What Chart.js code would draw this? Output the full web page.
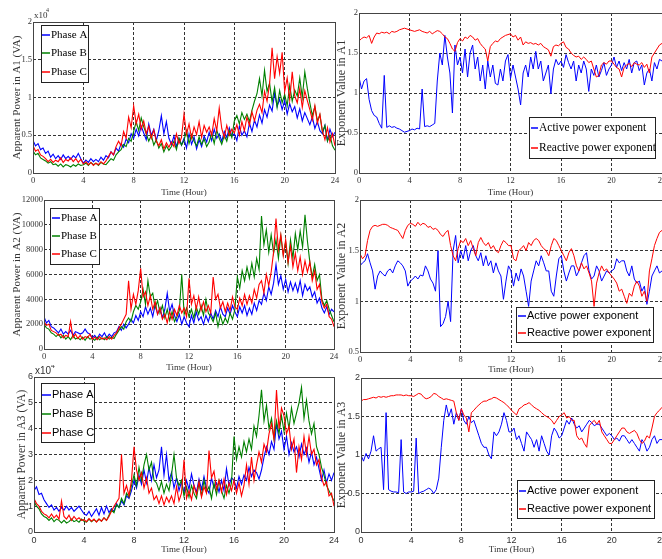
<!DOCTYPE html>
<html>
<head>
<meta charset="utf-8">
<title>Apparent power and exponent values, A1-A3</title>
<script src="https://cdn.jsdelivr.net/npm/chart.js@4.4.1/dist/chart.umd.min.js"></script>
<style>
  html, body { margin: 0; padding: 0; background: #fff; overflow: hidden; width: 662px; height: 559px; }
  body { position: relative; }
  canvas { position: absolute; }
</style>
</head>
<body>
<script>
// sampling grid: one value every 12 minutes, 0..24 h
const hours = Array.from({length: 121}, (_, i) => Math.round(i * 2) / 10)

// A1 apparent power (VA)
const a1PhaseA = [
  4300,3600,3900,3100,3300, 2600,2900,2100,2500,1900, 2300,1800,2400,1900,2200, 1800,2300,2000,2600,1900,
  1300,1700,1400,1900,1500, 1800,1500,2100,1700,2300, 2000,2800,2400,3300,2900, 3900,3400,4500,4000,5200,
  4600,5800,4900,6200,5300, 4400,6500,5000,5800,4300, 5600,7600,5200,6800,4600, 3800,4900,3500,4600,3700,
  4600,3300,5200,3800,4800, 3200,4400,3500,4900,4100, 5400,4300,5800,4600,5200, 4200,5500,4700,6000,4900,
  5200,4300,6200,5000,5600, 4800,6600,5500,7000,6100, 7700,6600,8400,7400,9000, 8200,10600,8800,9800,8400,
  9600,7800,9200,8100,8800, 7300,8500,6900,8000,7200, 6400,7400,5900,6800,5600, 5200,6300,4300,5800,4800,
  5400]
const a1PhaseB = [
  2900,2400,2600,2000,1800, 1600,1300,1500,1100,1200, 900,1200,800,1100,1000, 800,1100,900,1200,1000,
  1100,1300,1000,1400,1100, 1300,1000,1400,1200,1100, 1500,1900,1700,2400,2800, 3100,3800,3500,4600,4200,
  5500,6800,5600,7300,6100, 5200,4200,5000,3700,4400, 3300,3900,2800,3600,3000, 3500,4200,3100,4600,3700,
  4300,5600,3900,5100,4200, 3600,4800,3800,4500,3500, 4100,5300,3900,5700,4600, 3800,5000,4200,5600,4700,
  6900,7600,6500,8000,7100, 7800,6800,8300,9500,10500, 12500,10200,13600,10800,11900, 9400,11300,8700,10900,9300,
  10400,8900,11600,9500,11000, 10200,12600,10000,13400,11200, 9300,7600,8800,6900,7700, 5400,6300,4200,5000,3600,
  3000]
const a1PhaseC = [
  3600,2900,3100,2400,2200, 1900,1500,1800,1400,1700, 1500,2000,1400,1800,1600, 2000,1500,1900,1400,1800,
  1200,1500,1100,1400,1000, 1300,1100,1500,1200,1600, 2200,2800,2400,3500,4200, 3600,5500,4600,7400,6000,
  8900,6500,7800,5800,6900, 5200,6200,4600,5700,4200, 3600,4400,3200,4000,3400, 4100,3500,5200,3900,4700,
  7800,5100,6500,4600,6100, 5100,6800,4700,6300,5400, 6100,5000,7200,5600,8600, 5900,4700,6300,5000,5800,
  5300,6400,5000,6800,5600, 7400,6300,8100,6900,8300, 9100,8000,10800,9500,11800, 16600,12500,15400,13200,16000,
  10800,12600,9700,13400,10200, 9300,11200,8700,10900,9600, 8400,7000,8900,6600,7800, 5600,4400,6000,4100,5200,
  3600]

// A1 exponents
const a1Active = [
  1.20,1.05,1.15,1.18,0.92, 0.78,0.72,0.70,0.62,0.56, 1.22,0.57,0.59,0.57,0.58, 0.56,0.55,0.53,0.51,0.52,
  0.53,0.55,0.54,0.56,0.55, 1.05,0.58,0.59,0.58,0.60, 0.62,1.15,1.50,1.35,1.72, 1.45,1.25,0.75,1.60,1.35,
  1.45,1.25,1.55,1.20,1.50, 1.60,1.30,1.45,1.15,1.35, 1.05,1.40,1.20,1.35,1.12, 1.10,1.30,1.15,1.40,1.48,
  1.18,1.35,1.20,1.05,0.85, 1.25,1.35,1.20,1.45,1.30, 1.52,1.30,1.40,1.15,1.25, 1.35,0.99,1.30,1.42,1.35,
  1.40,1.32,1.48,1.38,1.30, 1.40,1.15,1.35,1.25,1.40, 1.30,1.02,1.30,1.22,1.35, 1.20,1.28,1.38,1.22,1.30,
  1.35,1.45,1.32,1.40,1.28, 1.38,1.30,1.42,1.25,1.38, 1.40,1.28,1.35,1.10,1.25, 1.30,1.15,1.38,1.30,1.42,
  1.40]
const a1Reactive = [
  1.65,1.68,1.70,1.69,1.72, 1.62,1.70,1.75,1.74,1.76, 1.75,1.76,1.74,1.77,1.76, 1.77,1.79,1.80,1.81,1.80,
  1.79,1.78,1.77,1.78,1.79, 1.77,1.76,1.75,1.77,1.74, 1.76,1.78,1.77,1.74,1.70, 1.68,1.62,1.55,1.52,1.63,
  1.68,1.65,1.70,1.68,1.72, 1.70,1.66,1.68,1.62,1.58, 1.55,1.40,1.58,1.62,1.65, 1.64,1.68,1.70,1.72,1.73,
  1.74,1.70,1.72,1.66,1.70, 1.60,1.64,1.62,1.63,1.61, 1.62,1.60,1.62,1.58,1.56, 1.54,1.46,1.58,1.60,1.59,
  1.62,1.64,1.57,1.55,1.50, 1.47,1.45,1.46,1.42,1.45, 1.42,1.38,1.40,1.30,1.20, 1.22,1.35,1.38,1.36,1.40,
  1.40,1.36,1.32,1.30,1.20, 1.32,1.35,1.37,1.33,1.38, 1.36,1.35,1.38,1.32,1.36, 1.25,1.45,1.50,1.55,1.60,
  1.62]

// A2 apparent power (VA)
const a2PhaseA = [
  2600,2100,2300,1800,1700, 1500,1300,1600,1200,1400, 1200,1500,1100,1400,1300, 1200,1300,1600,1300,1200,
  900,1100,800,1200,1000, 1300,900,1200,1000,1300, 1400,1800,1500,2000,1700, 2000,2400,2100,2700,2300,
  3000,2600,3400,2800,3300, 2600,3600,2800,3300,2500, 3200,4500,3000,3600,2700, 2200,2800,2000,2600,2100,
  1800,2700,2100,3000,2300, 2600,2000,2700,2200,2900, 2400,3100,2600,3400,2800, 2600,3300,2800,3500,3000,
  2600,3400,2900,3500,2700, 3300,2800,3700,3100,3900, 3600,4500,3900,5000,4400, 5300,6800,5200,5900,4800,
  5600,4600,5400,4700,5300, 4600,5500,4300,5200,4700, 5000,4200,4600,3700,4100, 3300,2900,3400,2800,3200,
  3000]
const a2PhaseB = [
  2000,1700,1600,1300,1200, 1000,1200,900,1100,800, 1000,750,1100,800,900, 750,950,700,1000,800,
  850,700,950,750,900, 750,1000,800,950,850, 1200,1500,1800,1600,2200, 2500,2200,3000,3500,3200,
  3800,4800,3600,5500,4200, 4500,3300,3900,2900,3500, 2500,3200,2300,3000,2200, 2600,3100,6000,2800,3300,
  2600,3200,2500,3400,2800, 3500,2700,4000,2900,2600, 2200,2900,1800,2700,2000, 2500,2100,2900,2400,3200,
  5800,4900,6300,5500,6600, 5700,6900,5800,7300,6400, 10700,8400,9600,7800,9200, 7700,8800,7300,9100,7600,
  8600,6900,8800,7300,9300, 8000,9500,8200,10800,8700, 7000,5800,6800,5500,6000, 4000,3500,3900,3200,2700,
  2200]
const a2PhaseC = [
  2200,1900,2000,1500,1400, 1300,1100,1200,900,1100, 1000,2200,900,1200,850, 1100,800,1000,900,1200,
  800,950,750,1000,800, 900,750,1000,800,1100, 1300,1700,2000,2400,2800, 5500,3200,4400,3600,4700,
  6500,4200,4600,3500,4300, 3200,3800,2800,3300,2400, 2800,2100,3000,2400,3200, 2700,3500,2900,3300,2600,
  5700,3600,4300,3200,4200, 3100,3800,3000,3500,2900, 5800,4000,4400,3300,3800, 3000,3700,3100,4200,3400,
  3200,4100,3500,4400,3600, 4300,3700,4800,4100,5200, 5500,4500,6000,5100,6200, 7800,10500,8000,9200,7500,
  8800,7000,8300,6600,7700, 6300,7400,6000,7100,6200, 7000,5500,6300,4800,5200, 3800,3300,3600,2600,2400,
  1800]

// A2 exponents
const a2Active = [
  1.35,1.38,1.40,1.47,1.38, 1.30,1.12,1.25,1.30,1.27, 1.25,1.30,1.32,1.28,1.35, 1.40,1.38,1.35,1.30,1.15,
  1.20,1.22,1.25,1.22,1.26, 1.25,1.35,1.30,1.22,1.18, 1.10,1.50,0.75,0.78,0.85, 1.00,0.80,1.50,1.65,1.38,
  1.50,1.42,1.55,1.40,1.50, 1.55,1.45,1.40,1.48,1.35, 1.45,1.35,1.40,1.28,1.38, 1.30,1.25,1.02,1.20,1.35,
  1.30,1.15,1.28,1.20,1.32, 1.25,1.10,0.95,1.20,1.30, 1.40,1.35,1.45,1.38,1.30, 1.30,1.10,1.05,1.25,1.42,
  1.45,1.30,1.20,1.28,1.35, 1.35,1.25,1.30,1.38,1.45, 1.48,1.30,1.22,1.25,1.35, 1.30,1.20,1.25,1.30,1.28,
  1.30,1.32,1.42,1.38,1.40, 1.40,1.30,1.25,1.35,1.22, 1.18,1.20,1.10,1.15,0.97, 1.10,1.25,1.30,1.35,1.28,
  1.30]
const a2Reactive = [
  1.47,1.42,1.45,1.60,1.70, 1.74,1.75,1.74,1.75,1.76, 1.76,1.75,1.73,1.72,1.71, 1.70,1.66,1.62,1.70,1.75,
  1.77,1.76,1.74,1.78,1.75, 1.77,1.76,1.73,1.74,1.71, 1.72,1.70,1.66,1.64,1.68, 1.70,1.55,1.45,1.40,1.52,
  1.60,1.58,1.62,1.55,1.60, 1.52,1.45,1.58,1.63,1.58, 1.55,1.58,1.52,1.55,1.50, 1.48,1.55,1.60,1.58,1.55,
  1.55,1.42,1.40,1.50,1.52, 1.55,1.50,1.58,1.55,1.60, 1.62,1.60,1.55,1.52,1.50, 1.45,1.55,1.62,1.60,1.55,
  1.50,1.45,1.40,1.48,1.52, 1.45,1.35,1.30,1.38,1.32, 1.35,1.28,1.20,0.95,1.18, 1.28,1.35,1.30,1.32,1.28,
  1.25,1.22,1.18,1.10,1.12, 1.05,0.98,1.08,1.05,1.15, 1.20,1.15,1.05,1.10,1.00, 1.30,1.42,1.55,1.62,1.68,
  1.70]

// A3 apparent power (VA)
const a3PhaseA = [
  16000,17500,14500,15000,12500, 11000,9500,10500,8500,9500, 8000,9500,8500,10000,8500, 9500,8000,9000,10000,8500,
  7000,6500,8000,6000,7500, 9000,6500,9500,7000,10000, 7500,9000,8000,11000,9500, 12000,10500,14000,13000,16000,
  20000,17000,22000,18500,24000, 19000,25000,20000,26000,21000, 24000,33000,22000,30000,20000, 23000,17000,21000,16000,19500,
  15000,20000,16500,22500,18000, 15500,20500,16500,21500,17000, 15000,21000,17000,19000,15500, 20000,16000,24500,18000,21000,
  20000,17000,21500,18500,22000, 20000,25000,21500,24000,23000, 20500,24000,29000,33000,30000, 35000,32000,42000,36000,39000,
  32000,37000,30000,34500,31000, 33000,29000,34000,30000,32500, 27000,31000,26000,29000,24500, 20000,24000,19000,22500,20000,
  23000]
const a3PhaseB = [
  12000,10000,9000,7000,6000, 5500,4500,5500,4000,5000, 4500,3500,4500,3500,4000, 5000,4000,4500,3800,5000,
  4200,3800,5000,4000,4800, 4000,5000,4200,5500,4500, 6500,8500,7500,10500,9500, 13000,11000,15000,13500,18000,
  22000,18000,25000,20000,26000, 30000,24000,27000,20000,19000, 16000,19500,15000,18500,16000, 22000,30000,21000,18000,20000,
  14000,17500,13500,18000,15000, 13000,19000,14000,20000,15500, 17500,13000,19000,14500,20000, 16000,13000,18000,15000,19000,
  37000,28000,33000,29000,35000, 31000,36000,32000,41000,37000, 45000,55000,43000,49000,40000, 44000,36000,43000,38000,45000,
  39000,46000,40000,48000,42000, 46000,50000,56000,44000,51000, 43000,38000,42000,33000,30000, 25000,22000,18000,16000,14000,
  12000]
const a3PhaseC = [
  13000,11000,10000,8000,7000, 6500,5500,7000,5500,6500, 5000,12000,6000,5000,6500, 4500,6000,4800,5500,4500,
  4800,4000,5200,4200,5000, 3800,5000,4200,5500,4500, 6000,8000,10000,11500,13000, 30000,15000,18000,14000,20000,
  33000,24000,20000,23000,17000, 21000,15000,17000,12500,14000, 11000,14000,10500,13500,11500, 14000,11000,17500,12000,15000,
  28000,13000,16000,12500,18000, 14500,19500,13500,17500,15000, 31500,21000,23500,16500,20000, 15500,20500,14500,19000,16000,
  20000,15000,19000,14000,18000, 26000,18500,29000,20000,26000, 31000,27000,34000,31000,38000, 42000,36000,55000,40000,48000,
  45000,38000,41000,32000,36000, 23000,33000,28000,37000,30000, 37000,30000,32000,26000,28000, 21000,18000,19500,14000,15000,
  10000]

// A3 exponents
const a3Active = [
  1.00,0.92,1.02,0.95,1.05, 1.25,1.05,1.08,1.10,0.55, 1.55,0.55,0.53,0.52,0.52, 0.51,1.20,0.52,0.50,0.52,
  0.52,0.53,1.22,0.50,0.52, 0.53,0.55,0.57,0.55,0.50, 0.55,0.70,1.10,1.45,1.65, 1.50,1.60,1.40,1.55,1.45,
  1.60,1.45,1.40,1.50,1.42, 1.45,1.35,1.25,1.15,1.10, 1.10,1.00,0.95,1.30,1.25, 1.30,1.40,1.55,1.45,1.30,
  1.30,1.35,1.20,1.25,1.15, 1.05,1.30,1.25,1.20,1.10, 1.20,1.05,1.25,1.15,1.05, 1.00,1.25,1.35,1.30,1.22,
  1.25,1.35,1.45,1.40,1.48, 1.40,1.35,1.38,1.30,1.35, 1.40,1.45,1.42,1.38,1.40, 1.40,1.35,1.30,1.25,1.28,
  1.25,1.20,1.22,1.18,1.25, 1.25,1.20,1.15,1.20,1.15, 1.10,1.05,1.20,1.15,1.05, 1.10,1.20,1.25,1.15,1.20,
  1.20]
const a3Reactive = [
  1.70,1.72,1.72,1.73,1.74, 1.75,1.74,1.76,1.75,1.76, 1.75,1.76,1.77,1.77,1.78, 1.78,1.78,1.77,1.78,1.77,
  1.77,1.76,1.78,1.80,1.79, 1.75,1.73,1.74,1.76,1.80, 1.79,1.76,1.74,1.72,1.73, 1.72,1.71,1.70,1.55,1.45,
  1.60,1.52,1.48,1.30,1.55, 1.58,1.62,1.65,1.68,1.70, 1.70,1.72,1.73,1.75,1.74, 1.72,1.70,1.68,1.65,1.62,
  1.58,1.55,1.52,1.60,1.62, 1.65,1.66,1.68,1.65,1.62, 1.60,1.58,1.55,1.52,1.50, 1.48,1.45,1.40,1.45,1.50,
  1.52,1.55,1.48,1.50,1.45, 1.45,1.25,1.20,1.22,1.15, 1.10,1.38,1.42,1.45,1.40, 1.45,1.30,1.25,1.20,1.15,
  1.15,1.20,1.25,1.30,1.35, 1.35,1.30,1.28,1.30,1.32, 1.28,1.20,1.15,1.18,1.25, 1.22,1.35,1.50,1.55,1.58,
  1.62]

const SERIF = '"Liberation Serif", "Times New Roman", serif'
const SANS = '"Liberation Sans", Arial, sans-serif'
const BLUE = '#0000ff', GREEN = '#008000', RED = '#ff0000'

// solid box round the plot area
const plotFrame = {
  id: 'plotFrame',
  afterDatasetsDraw(chart) {
    const {ctx, chartArea: a} = chart
    ctx.save()
    ctx.strokeStyle = '#444'
    ctx.lineWidth = 1
    ctx.strokeRect(Math.round(a.left) + 0.5, Math.round(a.top) + 0.5,
      Math.round(a.right - a.left), Math.round(a.bottom - a.top))
    ctx.restore()
  }
}

// boxed legend sitting inside the plot
const boxLegend = {
  id: 'boxLegend',
  afterDraw(chart, args, opts) {
    if (!opts.box) return
    const ctx = chart.ctx
    const [x0, y0, x1, y1] = opts.box
    ctx.save()
    ctx.fillStyle = '#fff'
    ctx.fillRect(x0, y0, x1 - x0, y1 - y0)
    ctx.strokeStyle = '#222'
    ctx.lineWidth = 1
    ctx.strokeRect(x0 + 0.5, y0 + 0.5, x1 - x0, y1 - y0)
    ctx.font = opts.font
    ctx.textBaseline = 'middle'
    chart.data.datasets.forEach((ds, i) => {
      const y = opts.rows[i]
      ctx.strokeStyle = ds.borderColor
      ctx.lineWidth = 1.5
      ctx.beginPath()
      ctx.moveTo(opts.sample[0], y)
      ctx.lineTo(opts.sample[1], y)
      ctx.stroke()
      ctx.fillStyle = '#000'
      ctx.fillText(ds.label, opts.textX, y)
    })
    ctx.restore()
  }
}

// "x10^4" multiplier above the y axis
const scaleNote = {
  id: 'scaleNote',
  afterDraw(chart, args, opts) {
    if (!opts.text) return
    const ctx = chart.ctx
    ctx.save()
    ctx.fillStyle = '#333'
    ctx.textBaseline = 'alphabetic'
    ctx.font = opts.font
    ctx.fillText(opts.text, opts.x, opts.y)
    ctx.font = opts.supFont
    ctx.fillText(opts.sup, opts.supX, opts.supY)
    ctx.restore()
  }
}

const panels = [
  {box: [0, 0, 345, 200], area: [33, 22, 335, 173], tickFont: {family: SERIF, size: 8.5}, lineWidth: 1.1,
   yMin: 0, yMax: 20000, yStep: 5000, yDiv: 10000,
   yTitle: 'Apparent Power in A1 (VA)', yTitleSize: 11, yTitlePad: 11.5, xTitlePad: 2.5,
   series: [['Phase A', a1PhaseA, BLUE], ['Phase B', a1PhaseB, GREEN], ['Phase C', a1PhaseC, RED]],
   legend: {box: [41, 25, 88, 82], rows: [35, 53, 72], sample: [42, 50], textX: 51, font: '11px ' + SERIF},
   note: {text: 'x10', sup: '4', x: 34, y: 18, supX: 46, supY: 12, font: '9px ' + SERIF, supFont: '6px ' + SERIF}},
  {box: [330, 0, 345, 200], area: [359, 13, 662, 173], tickFont: {family: SERIF, size: 8.5}, lineWidth: 1,
   yMin: 0, yMax: 2, yStep: 0.5, yDiv: 1,
   yTitle: 'Exponent Value in A1', yTitleSize: 12, yTitlePad: 6, xTitlePad: 3,
   series: [['Active power exponent', a1Active, BLUE], ['Reactive power exponent', a1Reactive, RED]],
   legend: {box: [529, 117, 655, 158], rows: [128, 148], sample: [531, 538], textX: 539, font: '11.5px ' + SERIF}},
  {box: [0, 185, 345, 190], area: [44, 200, 334, 349], tickFont: {family: SERIF, size: 8.5}, lineWidth: 1.1,
   yMin: 0, yMax: 12000, yStep: 2000, yDiv: 1,
   yTitle: 'Apparent Power in A2 (VA)', yTitleSize: 11, yTitlePad: 11.5, xTitlePad: 2.5,
   series: [['Phase A', a2PhaseA, BLUE], ['Phase B', a2PhaseB, GREEN], ['Phase C', a2PhaseC, RED]],
   legend: {box: [50, 208, 99, 264], rows: [218, 236, 254], sample: [52, 60], textX: 61, font: '11px ' + SERIF}},
  {box: [330, 185, 345, 190], area: [360, 200, 662, 352], tickFont: {family: SERIF, size: 8.5}, lineWidth: 1,
   yMin: 0.5, yMax: 2, yStep: 0.5, yDiv: 1,
   yTitle: 'Exponent Value in A2', yTitleSize: 12, yTitlePad: 6, xTitlePad: 0.5,
   series: [['Active power exponent', a2Active, BLUE], ['Reactive power exponent', a2Reactive, RED]],
   legend: {box: [516, 307, 653, 342], rows: [316, 333], sample: [518, 526], textX: 527, font: '11px ' + SANS}},
  {box: [0, 365, 345, 194], area: [34, 377, 334, 532], tickFont: {family: SANS, size: 9}, lineWidth: 1.1,
   yMin: 0, yMax: 60000, yStep: 10000, yDiv: 10000,
   yTitle: 'Apparent Power in A3 (VA)', yTitleSize: 11.5, yTitlePad: 16.5, xTitlePad: 4.5,
   series: [['Phase A', a3PhaseA, BLUE], ['Phase B', a3PhaseB, GREEN], ['Phase C', a3PhaseC, RED]],
   legend: {box: [41, 383, 94, 442], rows: [395, 414, 433], sample: [42, 51], textX: 52, font: '11px ' + SANS},
   note: {text: 'x10', sup: '4', x: 35, y: 374, supX: 51, supY: 368, font: '10px ' + SANS, supFont: '7px ' + SANS}},
  {box: [330, 365, 345, 194], area: [361, 378, 662, 532], tickFont: {family: SANS, size: 9}, lineWidth: 1,
   yMin: 0, yMax: 2, yStep: 0.5, yDiv: 1,
   yTitle: 'Exponent Value in A3', yTitleSize: 12, yTitlePad: 6, xTitlePad: 4.5,
   series: [['Active power exponent', a3Active, BLUE], ['Reactive power exponent', a3Reactive, RED]],
   legend: {box: [517, 480, 654, 518], rows: [491, 509], sample: [519, 526], textX: 527, font: '11px ' + SANS}}
]

const makePanel = p => {
  const [cx, cy, w, h] = p.box
  const canvas = document.createElement('canvas')
  canvas.width = w
  canvas.height = h
  canvas.style.left = cx + 'px'
  canvas.style.top = cy + 'px'
  document.body.appendChild(canvas)

  // plot area in canvas coordinates
  const left = p.area[0] - cx, top = p.area[1] - cy
  const right = p.area[2] - cx, bottom = p.area[3] - cy

  const lg = p.legend
  const legendOpts = {
    box: [lg.box[0] - cx, lg.box[1] - cy, lg.box[2] - cx, lg.box[3] - cy],
    rows: lg.rows.map(y => y - cy),
    sample: lg.sample.map(x => x - cx),
    textX: lg.textX - cx,
    font: lg.font
  }
  const noteOpts = p.note ? {...p.note, x: p.note.x - cx, y: p.note.y - cy,
    supX: p.note.supX - cx, supY: p.note.supY - cy} : {}

  const grid = {color: '#333', lineWidth: 1, drawTicks: false}
  const border = {display: false, dash: [3, 2]}

  return new Chart(canvas, {
    type: 'line',
    data: {
      labels: hours,
      datasets: p.series.map(([label, values, color], i) => ({
        label: label,
        data: values,
        borderColor: color,
        backgroundColor: color,
        borderWidth: p.lineWidth,
        pointRadius: 0,
        tension: 0,
        order: p.series.length - i
      }))
    },
    options: {
      responsive: false,
      animation: false,
      events: [],
      layout: {padding: {top: top, right: w - right, left: 0, bottom: 0}},
      scales: {
        x: {
          type: 'linear',
          min: 0,
          max: 24,
          afterFit: s => { s.height = h - bottom },
          ticks: {stepSize: 4, maxRotation: 0, autoSkip: false, padding: 3, color: '#333', font: p.tickFont},
          grid: grid,
          border: border,
          title: {
            display: true, text: 'Time (Hour)', color: '#333',
            font: {family: SERIF, size: 9, lineHeight: 1},
            padding: {top: 0, bottom: p.xTitlePad}
          }
        },
        y: {
          min: p.yMin,
          max: p.yMax,
          afterFit: s => { s.width = left },
          ticks: {
            stepSize: p.yStep, padding: 1, color: '#333', font: p.tickFont,
            callback: v => String(+(v / p.yDiv).toFixed(2))
          },
          grid: grid,
          border: border,
          title: {
            display: true, text: p.yTitle, color: '#333',
            font: {family: SERIF, size: p.yTitleSize, lineHeight: 1},
            padding: {top: p.yTitlePad, bottom: 0}
          }
        }
      },
      plugins: {
        legend: {display: false},
        tooltip: {enabled: false},
        boxLegend: legendOpts,
        scaleNote: noteOpts
      }
    },
    plugins: [plotFrame, boxLegend, scaleNote]
  })
}

panels.forEach(makePanel)
</script>
</body>
</html>
